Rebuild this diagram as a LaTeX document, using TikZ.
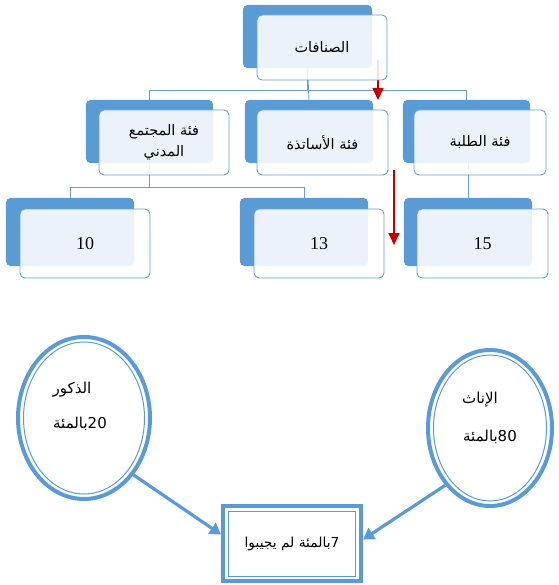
\documentclass[tikz,border=0pt]{standalone}
\usepackage{fontspec}
\TeXXeTstate=1
\newfontfamily\arabicfont[Script=Arabic]{DejaVu Sans}
\newfontfamily\numfont{Liberation Serif}
\usetikzlibrary{shapes.geometric,arrows.meta}
\definecolor{bblue}{HTML}{5B9BD5}
\definecolor{lblue}{HTML}{6A9FD6}
\definecolor{dred}{HTML}{C00000}
\tikzset{
  backbox/.style={fill=bblue, rounded corners=5pt, inner sep=0pt},
  frontbox/.style={draw=lblue, line width=0.9pt, fill=white, fill opacity=0.88, text opacity=1,
    rounded corners=5pt, inner sep=0pt, align=center},
  conn/.style={draw=lblue, line width=0.9pt},
  redarrow/.style={draw=dred, line width=1.6pt, -{Triangle[width=11pt,length=12pt]}},
  bluearrow/.style={draw=bblue, line width=3.2pt, -{Triangle[width=13pt,length=11pt]}},
  arlabel/.style={font=\arabicfont\fontsize{14.5}{21}\selectfont},
  numlabel/.style={font=\numfont\fontsize{18}{20}\selectfont},
  ctext/.style={inner sep=0pt, font=\arabicfont\fontsize{15}{17}\selectfont},
  outerell/.style={ellipse, draw=bblue, line width=4pt, inner sep=0pt},
  innerell/.style={ellipse, draw=bblue, line width=1pt, inner sep=0pt},
}
\begin{document}
\begin{tikzpicture}[x=1pt,y=-1pt]
\useasboundingbox (0,0) rectangle (558,585);
\path
  (307.5,36.5) node[minimum width=129pt, minimum height=63pt, inner sep=0pt] (tb) {}
  (149.5,131.5) node[minimum width=127pt, minimum height=63pt, inner sep=0pt] (b1) {}
  (309,131.5) node[minimum width=128pt, minimum height=63pt, inner sep=0pt] (b2) {}
  (466.5,131.5) node[minimum width=127pt, minimum height=63pt, inner sep=0pt] (b3) {}
  (70,232) node[minimum width=128pt, minimum height=68pt, inner sep=0pt] (c1) {}
  (304,232) node[minimum width=128pt, minimum height=68pt, inner sep=0pt] (c2) {}
  (468,232) node[minimum width=128pt, minimum height=68pt, inner sep=0pt] (c3) {};
\coordinate (j1) at (308,90);
\coordinate (j2) at (150,187);
% connectors
\draw[conn] (tb.south) |- (b1.north |- j1) -- (b1.north);
\draw[conn] (tb.south) |- (b3.north |- j1) -- (b3.north);
\draw[conn] (tb.south) -- (b2.north);
\draw[conn] (b1.south) |- (c1.north |- j2) -- (c1.north);
\draw[conn] (b1.south) |- (c2.north |- j2) -- (c2.north);
\draw[conn] (c3.north |- b3.south) -- (c3.north);
% red arrows
\coordinate (r1s) at (378,60);
\coordinate (r1e) at (378,100);
\coordinate (r2s) at (394,170);
\coordinate (r2e) at (394,245);
\draw[redarrow] (r1s) -- (r1e);
\draw[redarrow] (r2s) -- (r2e);
% back boxes
\foreach \n in {tb,b1,b2,b3,c1,c2,c3}{
  \fill[bblue, rounded corners=5pt] (\n.north west) rectangle (\n.south east);
}
% front boxes
\node[frontbox, arlabel, minimum width=130pt, minimum height=65pt] (tf) at (322,47.5)
  {\beginR الصنافات\endR};
\node[frontbox, arlabel, minimum width=130pt, minimum height=65pt] (f1) at (164,142.5)
  {\beginR فئة المجتمع\endR\\\beginR المدني\endR};
\node[frontbox, arlabel, minimum width=131pt, minimum height=65pt] (f2) at (322.5,142.5)
  {\beginR فئة الأساتذة\endR};
\node[frontbox, arlabel, minimum width=132pt, minimum height=65pt] (f3) at (480,142.5)
  {\beginR فئة الطلبة\endR};
\node[frontbox, numlabel, minimum width=130pt, minimum height=69pt] (g1) at (85,243.5) {10};
\node[frontbox, numlabel, minimum width=130pt, minimum height=69pt] (g2) at (319,243.5) {13};
\node[frontbox, numlabel, minimum width=131pt, minimum height=69pt] (g3) at (482.5,243.5) {15};
% bottom part
\node[outerell, minimum width=132pt, minimum height=162pt] (lc) at (84,418) {};
\node[innerell, minimum width=121pt, minimum height=152pt] (lci) at (84,418) {};
\node[outerell, minimum width=124pt, minimum height=156pt] (rc) at (490,428) {};
\node[innerell, minimum width=113pt, minimum height=146pt] (rci) at (490,428) {};
\node[draw=bblue, line width=4pt, minimum width=138pt, minimum height=75pt, inner sep=0pt] (bx) at (292,543.5) {};
\node[draw=bblue, line width=1pt, minimum width=127pt, minimum height=65pt, inner sep=0pt,
  font=\arabicfont\fontsize{13.8}{16}\selectfont] (bxi) at (292,543.5)
  {\beginR\beginL 7\endL بالمئة لم يجيبوا\endR};
\node[ctext] (lt1) at (72,390) {\beginR الذكور\endR};
\node[ctext] (lt2) at (80,424) {\beginR\beginL 20\endL بالمئة\endR};
\node[ctext] (rt1) at (480,400) {\beginR الإناث\endR};
\node[ctext] (rt2) at (490,437) {\beginR\beginL 80\endL بالمئة\endR};
\draw[bluearrow] (lc.-49) -- ([yshift=9pt]bx.west);
\draw[bluearrow] (rc.-128) -- ([yshift=4pt]bx.east);
\end{tikzpicture}
\end{document}
